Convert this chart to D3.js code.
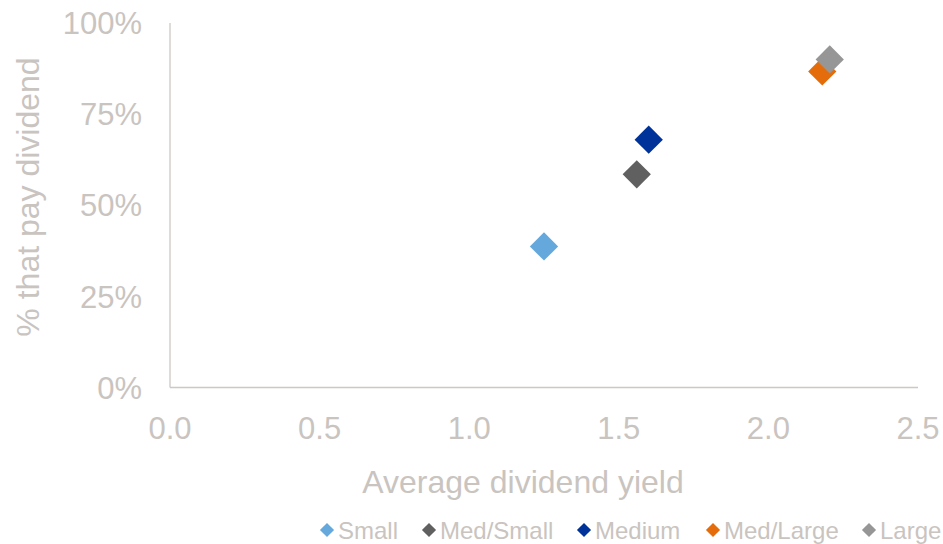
<!DOCTYPE html>
<html>
<head>
<meta charset="utf-8">
<script src="https://cdn.jsdelivr.net/npm/d3@7"></script>
<style>
  body { margin: 0; background: #fff; }
  text { font-family: "Liberation Sans", Arial, sans-serif; }
</style>
</head>
<body>
<script>
const width = 943, height = 544;

// data
const series = ["Small", "Med/Small", "Medium", "Med/Large", "Large"];
const avgYield = [1.25, 1.56, 1.60, 2.18, 2.205];
const pctPaying = [0.387, 0.585, 0.680, 0.867, 0.900];
const colors = ["#65a9dc", "#606060", "#003399", "#e46c0a", "#969696"];
const xTicks = [0, 0.5, 1, 1.5, 2, 2.5];
const yTicks = [0, 0.25, 0.5, 0.75, 1];

const textColor = "#c9c4bf";

const svg = d3.select("body").append("svg")
    .attr("width", width)
    .attr("height", height);

const x = d3.scaleLinear().domain([0, 2.5]).range([170, 918]);
const y = d3.scaleLinear().domain([0, 1]).range([387.5, 23]);

// axis lines
svg.append("line")
    .attr("x1", x(0)).attr("x2", x(0))
    .attr("y1", y(0)).attr("y2", y(1))
    .attr("stroke", "#cdc8c3").attr("stroke-width", 1.3);
svg.append("line")
    .attr("x1", x(0)).attr("x2", x(2.5))
    .attr("y1", y(0)).attr("y2", y(0))
    .attr("stroke", "#cdc8c3").attr("stroke-width", 1.3);

// tick labels
svg.selectAll(".ytick")
    .data(yTicks)
    .enter().append("text")
    .attr("class", "ytick")
    .attr("x", 142)
    .attr("y", d => y(d))
    .attr("dy", "0.36em")
    .attr("text-anchor", "end")
    .attr("font-size", "31px")
    .attr("fill", textColor)
    .text(d3.format(".0%"));

svg.selectAll(".xtick")
    .data(xTicks)
    .enter().append("text")
    .attr("class", "xtick")
    .attr("x", d => x(d))
    .attr("y", 439)
    .attr("text-anchor", "middle")
    .attr("font-size", "31px")
    .attr("fill", textColor)
    .text(d3.format(".1f"));

// axis titles
svg.append("text")
    .attr("x", 523)
    .attr("y", 493)
    .attr("text-anchor", "middle")
    .attr("font-size", "32px")
    .attr("fill", textColor)
    .text("Average dividend yield");

svg.append("text")
    .attr("transform", "translate(39,197) rotate(-90)")
    .attr("text-anchor", "middle")
    .attr("font-size", "32px")
    .attr("fill", textColor)
    .text("% that pay dividend");

// points
const diamond = d3.symbol().type(d3.symbolSquare).size(400);
svg.selectAll(".pt")
    .data(series)
    .enter().append("path")
    .attr("class", "pt")
    .attr("d", diamond)
    .attr("transform", (d, i) => "translate(" + x(avgYield[i]) + "," + y(pctPaying[i]) + ") rotate(45)")
    .attr("fill", (d, i) => colors[i]);

// legend
const legendX = [327, 429, 584, 713, 869];
const legend = svg.selectAll(".leg")
    .data(series)
    .enter().append("g")
    .attr("class", "leg")
    .attr("transform", (d, i) => "translate(" + legendX[i] + ",530)");

legend.append("path")
    .attr("d", d3.symbol().type(d3.symbolSquare).size(100))
    .attr("transform", "rotate(45)")
    .attr("fill", (d, i) => colors[i]);

legend.append("text")
    .attr("x", 11)
    .attr("dy", "0.36em")
    .attr("font-size", "24px")
    .attr("fill", textColor)
    .text(d => d);
</script>
</body>
</html>
